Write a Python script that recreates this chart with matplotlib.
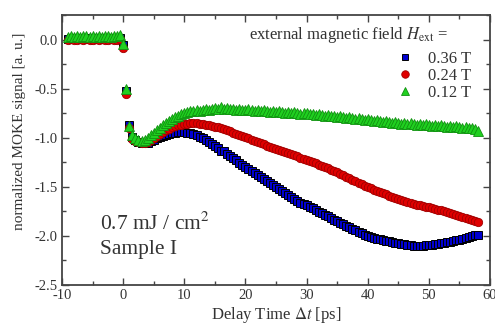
import numpy as np
import matplotlib
matplotlib.use('Agg')
import matplotlib.pyplot as plt
from matplotlib.ticker import MultipleLocator

plt.rcParams['font.family'] = ['Liberation Serif', 'DejaVu Serif']
plt.rcParams['mathtext.fontset'] = 'stix'
plt.rcParams['axes.unicode_minus'] = False

# delay grid of the measurement [ps]
delay = np.arange(-9, 58.5, 0.5)

# normalized MOKE signal, 0.36 T
sig_036 = [
    0.01, 0.02, 0.01, 0.02, 0.01, 0.02, 0.02, 0.01, 0.02, 0.01, 0.02, 0.01, 0.02, 0.02, 0.01, 0.02, 0.01, 0.02,
    -0.06, -0.52, -0.87, -0.99, -1.02, -1.04, -1.05, -1.05, -1.05, -1.03,
    -1.02, -1.00, -0.99, -0.98, -0.97, -0.96, -0.95, -0.95, -0.94, -0.94,
    -0.94, -0.95, -0.95, -0.96, -0.97, -0.99, -1.00, -1.02, -1.04, -1.06,
    -1.08, -1.10, -1.13, -1.14, -1.17, -1.19, -1.21, -1.23, -1.26, -1.28,
    -1.30, -1.32, -1.34, -1.36, -1.38, -1.40, -1.42, -1.44, -1.46, -1.48,
    -1.50, -1.52, -1.54, -1.56, -1.58, -1.60, -1.62, -1.64, -1.66, -1.67,
    -1.69, -1.71, -1.72, -1.74, -1.76, -1.77, -1.79, -1.80, -1.82, -1.84,
    -1.85, -1.87, -1.88, -1.90, -1.91, -1.93, -1.94, -1.96, -1.97, -1.99,
    -2.00, -2.01, -2.02, -2.03, -2.03, -2.04, -2.05, -2.05, -2.06, -2.07,
    -2.07, -2.08, -2.08, -2.09, -2.09, -2.10, -2.10, -2.10, -2.10, -2.09,
    -2.09, -2.09, -2.08, -2.08, -2.07, -2.07, -2.06, -2.06, -2.05, -2.04,
    -2.04, -2.03, -2.02, -2.01, -2.00, -1.99, -1.99,
]

# 0.24 T
sig_024 = [
    0.00, 0.01, 0.00, 0.00, 0.01, 0.00, 0.01, 0.00, 0.00, 0.01, 0.00, 0.01, 0.00, 0.00, 0.01, 0.00, 0.00, 0.01,
    -0.09, -0.55, -0.90, -1.01, -1.03, -1.04, -1.05, -1.05, -1.04, -1.02,
    -1.00, -0.98, -0.96, -0.94, -0.92, -0.91, -0.89, -0.88, -0.87, -0.87,
    -0.86, -0.86, -0.85, -0.85, -0.85, -0.86, -0.86, -0.87, -0.87, -0.88,
    -0.89, -0.89, -0.90, -0.91, -0.92, -0.93, -0.95, -0.96, -0.97, -0.98,
    -0.99, -1.00, -1.02, -1.03, -1.04, -1.05, -1.06, -1.08, -1.09, -1.10,
    -1.11, -1.12, -1.14, -1.15, -1.16, -1.17, -1.18, -1.19, -1.21, -1.22,
    -1.23, -1.24, -1.25, -1.26, -1.28, -1.29, -1.30, -1.31, -1.33, -1.34,
    -1.35, -1.37, -1.38, -1.40, -1.41, -1.43, -1.44, -1.46, -1.47, -1.49,
    -1.50, -1.51, -1.53, -1.54, -1.55, -1.56, -1.57, -1.59, -1.60, -1.61,
    -1.62, -1.63, -1.64, -1.65, -1.66, -1.67, -1.68, -1.69, -1.70, -1.71,
    -1.71, -1.72, -1.73, -1.74, -1.74, -1.75, -1.76, -1.77, -1.78, -1.79,
    -1.80, -1.81, -1.82, -1.83, -1.84, -1.85, -1.86,
]

# 0.12 T
sig_012 = [
    0.03, 0.04, 0.03, 0.04, 0.03, 0.04, 0.04, 0.03, 0.04, 0.03, 0.04, 0.03, 0.04, 0.04, 0.03, 0.04, 0.04, 0.05,
    -0.05, -0.50, -0.88, -0.97, -1.00, -1.02, -1.03, -1.02, -1.00, -0.97,
    -0.95, -0.92, -0.90, -0.87, -0.85, -0.83, -0.81, -0.79, -0.78, -0.76,
    -0.75, -0.74, -0.73, -0.73, -0.72, -0.73, -0.72, -0.71, -0.72, -0.71,
    -0.70, -0.71, -0.69, -0.71, -0.70, -0.71, -0.71, -0.72, -0.71, -0.72,
    -0.72, -0.71, -0.72, -0.73, -0.72, -0.73, -0.72, -0.73, -0.74, -0.73,
    -0.74, -0.73, -0.74, -0.75, -0.74, -0.75, -0.74, -0.75, -0.76, -0.75,
    -0.75, -0.76, -0.76, -0.77, -0.76, -0.77, -0.78, -0.77, -0.78, -0.78,
    -0.79, -0.78, -0.79, -0.80, -0.79, -0.80, -0.81, -0.80, -0.81, -0.82,
    -0.81, -0.82, -0.83, -0.82, -0.83, -0.84, -0.83, -0.84, -0.85, -0.84,
    -0.85, -0.86, -0.85, -0.86, -0.85, -0.86, -0.87, -0.86, -0.87, -0.86,
    -0.87, -0.88, -0.87, -0.88, -0.87, -0.88, -0.89, -0.88, -0.89, -0.88,
    -0.89, -0.90, -0.89, -0.90, -0.90, -0.91, -0.93,
]

labels = ['0.36 T', '0.24 T', '0.12 T']

txt = '#333333'
fig = plt.figure(figsize=(4.95, 3.27), dpi=100)
ax = fig.add_axes([0.1253, 0.1284, 0.8646, 0.8257])

h1, = ax.plot(delay, sig_036, 's', ms=5.5, mfc='#0000d0', mec='black', mew=0.7, label=labels[0])
h2, = ax.plot(delay, sig_024, 'o', ms=6, mfc='#e00000', mec='#a00000', mew=0.6, label=labels[1])
h3, = ax.plot(delay, sig_012, '^', ms=6.5, mfc='#20d020', mec='#109010', mew=0.6, label=labels[2])

ax.set_xlim(-10, 60)
ax.set_ylim(-2.5, 0.25)
ax.xaxis.set_major_locator(MultipleLocator(10))
ax.xaxis.set_minor_locator(MultipleLocator(5))
ax.yaxis.set_major_locator(MultipleLocator(0.5))
ax.yaxis.set_minor_locator(MultipleLocator(0.25))
ax.yaxis.set_major_formatter(matplotlib.ticker.FormatStrFormatter('%.1f'))
ax.tick_params(which='both', direction='in', top=True, right=True, color='#444444',
               labelcolor=txt, labelsize=10.5, width=1)
ax.tick_params(which='major', length=5, pad=3)
ax.tick_params(which='minor', length=3)
for s in ax.spines.values():
    s.set_color('#444444')
    s.set_linewidth(1.3)

ax.set_xlabel(r'Delay Time $\mathit{\Delta t}$ [ps]', fontsize=12, color=txt, labelpad=2)
ax.set_ylabel('normalized MOKE signal [a. u.]', fontsize=11, color=txt)
ax.yaxis.set_label_coords(-0.085, 0.57)

ax.text(0.089, 0.226, r'0.7 mJ / cm$^2$', transform=ax.transAxes, fontsize=15.5,
        color=txt, va='center', ha='left')
ax.text(0.089, 0.13, 'Sample I', transform=ax.transAxes, fontsize=15.5,
        color=txt, va='center', ha='left')

ax.text(0.902, 0.926, r'external magnetic field $H_{\rm ext}$ =', transform=ax.transAxes,
        fontsize=12, color=txt, ha='right', va='center')
leg = ax.legend(handles=[h1, h2, h3], loc='upper left', bbox_to_anchor=(0.782, 0.868),
                frameon=False, fontsize=12, handlelength=1.0, handletextpad=0.9,
                labelspacing=0.08, borderpad=0, borderaxespad=0, numpoints=1,
                markerscale=0.9)
for t in leg.get_texts():
    t.set_color(txt)

fig.savefig('out.png', dpi=100)
